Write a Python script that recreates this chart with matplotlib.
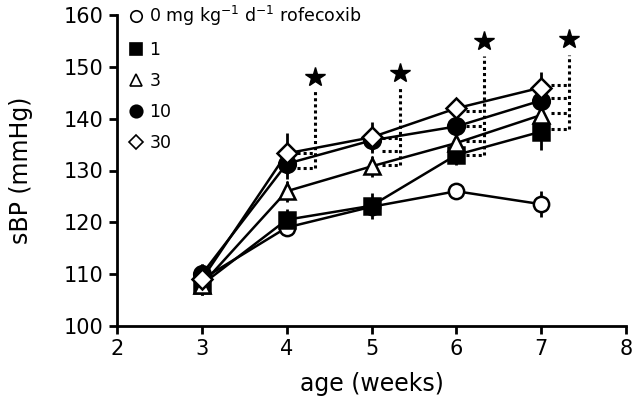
import matplotlib.pyplot as plt
import numpy as np

plt.rcParams['font.family'] = ['DejaVu Sans']
plt.rcParams['mathtext.default'] = 'regular'

# age in weeks
weeks = [3, 4, 5, 6, 7]

# mean sBP (mmHg) per dose group
sbp_0 = [109, 119, 123, 126, 123.5]
sbp_1 = [108, 120.5, 123.2, 133, 137.5]
sbp_3 = [108, 126, 130.8, 135.3, 140.7]
sbp_10 = [110, 131.3, 135.8, 138.5, 143.5]
sbp_30 = [109, 133.3, 136.4, 142, 146]

# error (mmHg)
err_0 = [2, 1.5, 1.5, 1.5, 2.5]
err_1 = [2, 2, 2.5, 2, 3.5]
err_3 = [2, 2, 2, 2, 2.5]
err_10 = [2, 3, 2, 2, 2.5]
err_30 = [3, 4, 3, 2, 3]

# significance brackets: week, levels of the dotted ticks, top of the line, star height
sig_weeks = [4, 5, 6, 7]
sig_levels = [[133.4, 130.5], [136.2, 133.8, 131], [141.4, 138.5, 135.6, 133], [146.5, 144, 141, 138]]
sig_tops = [145.6, 146.2, 152, 152.3]
sig_stars = [148, 148.8, 154.9, 155.3]

labels = ['0 mg kg$^{-1}$ d$^{-1}$ rofecoxib', '1', '3', '10', '30']
series = [sbp_0, sbp_1, sbp_3, sbp_10, sbp_30]
errors = [err_0, err_1, err_3, err_10, err_30]
markers = ['o', 's', '^', 'o', 'D']
faces = ['white', 'black', 'white', 'black', 'white']
sizes = [11, 11, 12, 12, 10]

fig = plt.figure(figsize=(6.4, 4.0), dpi=100)
ax = fig.add_axes([0.183, 0.185, 0.795, 0.7775])

handles = []
for i in range(len(series)):
    ax.errorbar(weeks, series[i], yerr=errors[i], fmt='none', ecolor='black',
                elinewidth=2, capsize=0, zorder=2)
    line, = ax.plot(weeks, series[i], color='black', lw=1.8, marker=markers[i],
                    ms=sizes[i], mfc=faces[i], mec='black', mew=1.8, zorder=3 + i)
    h, = ax.plot([], [], ls='none', marker=markers[i], ms=sizes[i] * 0.75,
                 mfc=faces[i], mec='black', mew=1.2)
    handles.append(h)

# dotted significance brackets
for w, levels, top, star in zip(sig_weeks, sig_levels, sig_tops, sig_stars):
    x0 = w + 0.12
    x1 = w + 0.33
    ax.plot([x1, x1], [min(levels), top], color='black', ls=(0, (1, 1)), lw=2.2, zorder=1)
    for lv in levels:
        ax.plot([x0, x1], [lv, lv], color='black', ls=(0, (1, 1)), lw=2.2, zorder=1)
    ax.plot(x1, star, marker='*', ms=15, color='black', zorder=10)

ax.set_xlim(2, 8)
ax.set_ylim(100, 160)
ax.set_xticks(range(2, 9))
ax.set_yticks(range(100, 161, 10))
ax.spines['top'].set_visible(False)
ax.spines['right'].set_visible(False)
ax.spines['left'].set_linewidth(2)
ax.spines['bottom'].set_linewidth(2)
ax.tick_params(width=2, length=6, labelsize=15)
ax.set_xlabel('age (weeks)', fontsize=17, labelpad=9)
ax.set_ylabel('sBP (mmHg)', fontsize=17, labelpad=22)

ax.legend(handles, labels, loc='upper left', bbox_to_anchor=(0.0, 1.075),
          frameon=False, fontsize=12.5, handlelength=0.8, handletextpad=0.35,
          labelspacing=0.75, borderaxespad=0.3)

fig.savefig('out.png', dpi=100)
